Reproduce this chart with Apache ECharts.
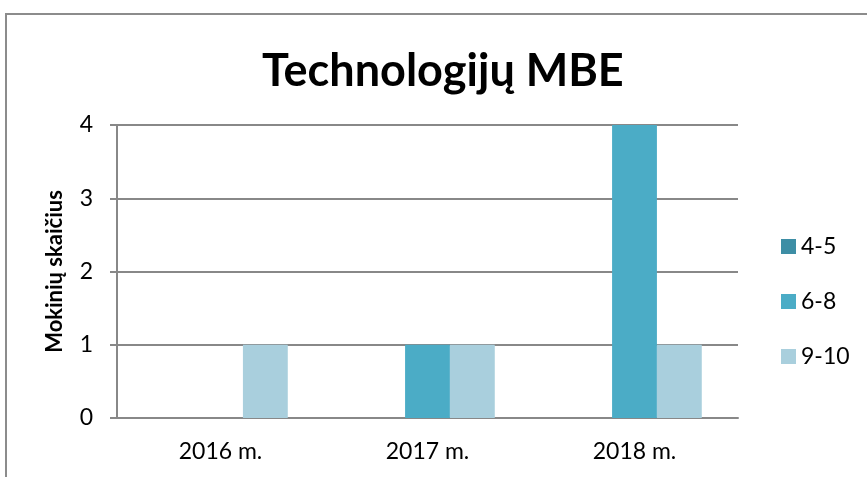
<!DOCTYPE html>
<html>
<head>
<meta charset="utf-8">
<style>
    html, body { margin: 0; padding: 0; background: #fff; }
    .frame {
        position: absolute; left: 5px; top: 13px; width: 900px; height: 500px;
        border-left: 2px solid #8c8c8c; border-top: 2px solid #8c8c8c;
    }
    #chart { position: absolute; left: 0; top: 0; width: 867px; height: 477px; }
</style>
<script src="https://cdn.jsdelivr.net/npm/echarts@6/dist/echarts.min.js"></script>
</head>
<body>
<div class="frame"></div>
<div id="chart"></div>
<script>
    const categories = ['2016 m.', '2017 m.', '2018 m.'];
    const seriesNames = ['4-5', '6-8', '9-10'];
    const values45 = [0, 0, 0];
    const values68 = [0, 1, 4];
    const values910 = [1, 1, 1];
    const colors = ['#3d8ea5', '#4bacc6', '#a9cfdd'];

    const chart = echarts.init(document.getElementById('chart'));
    const font = 'Lato, "Open Sans", sans-serif';

    chart.setOption({
        animation: false,
        color: colors,
        title: {
            text: 'Technologijų MBE',
            left: 257,
            top: 44,
            textStyle: { fontSize: 45, fontWeight: 'bold', color: '#000', fontFamily: font }
        },
        legend: {
            orient: 'vertical',
            left: 776,
            top: 230,
            itemWidth: 15,
            itemHeight: 15,
            itemGap: 32,
            icon: 'rect',
            data: seriesNames,
            textStyle: { fontSize: 23, lineHeight: 15, color: '#000', fontFamily: font }
        },
        grid: { left: 117, top: 125, right: 129, bottom: 59 },
        xAxis: {
            type: 'category',
            data: categories,
            axisLine: { lineStyle: { color: '#888', width: 2 } },
            axisTick: { show: false },
            axisLabel: { fontSize: 23, color: '#000', margin: 22, fontFamily: font }
        },
        yAxis: {
            type: 'value',
            min: 0, max: 4, interval: 1,
            name: 'Mokinių skaičius',
            nameLocation: 'middle',
            nameGap: 51,
            nameTextStyle: { fontSize: 22, fontWeight: 'bold', color: '#000', fontFamily: font },
            axisLine: { show: true, lineStyle: { color: '#888', width: 2 } },
            axisTick: { show: true, length: 7, lineStyle: { color: '#888', width: 2 } },
            splitLine: { lineStyle: { color: '#888', width: 2 } },
            axisLabel: { fontSize: 23, color: '#000', margin: 24, fontFamily: font }
        },
        series: [
            { name: seriesNames[0], type: 'bar', data: values45, barGap: '0%', barCategoryGap: '35%' },
            { name: seriesNames[1], type: 'bar', data: values68, barGap: '0%', barCategoryGap: '35%' },
            { name: seriesNames[2], type: 'bar', data: values910, barGap: '0%', barCategoryGap: '35%' }
        ]
    });
</script>
</body>
</html>
